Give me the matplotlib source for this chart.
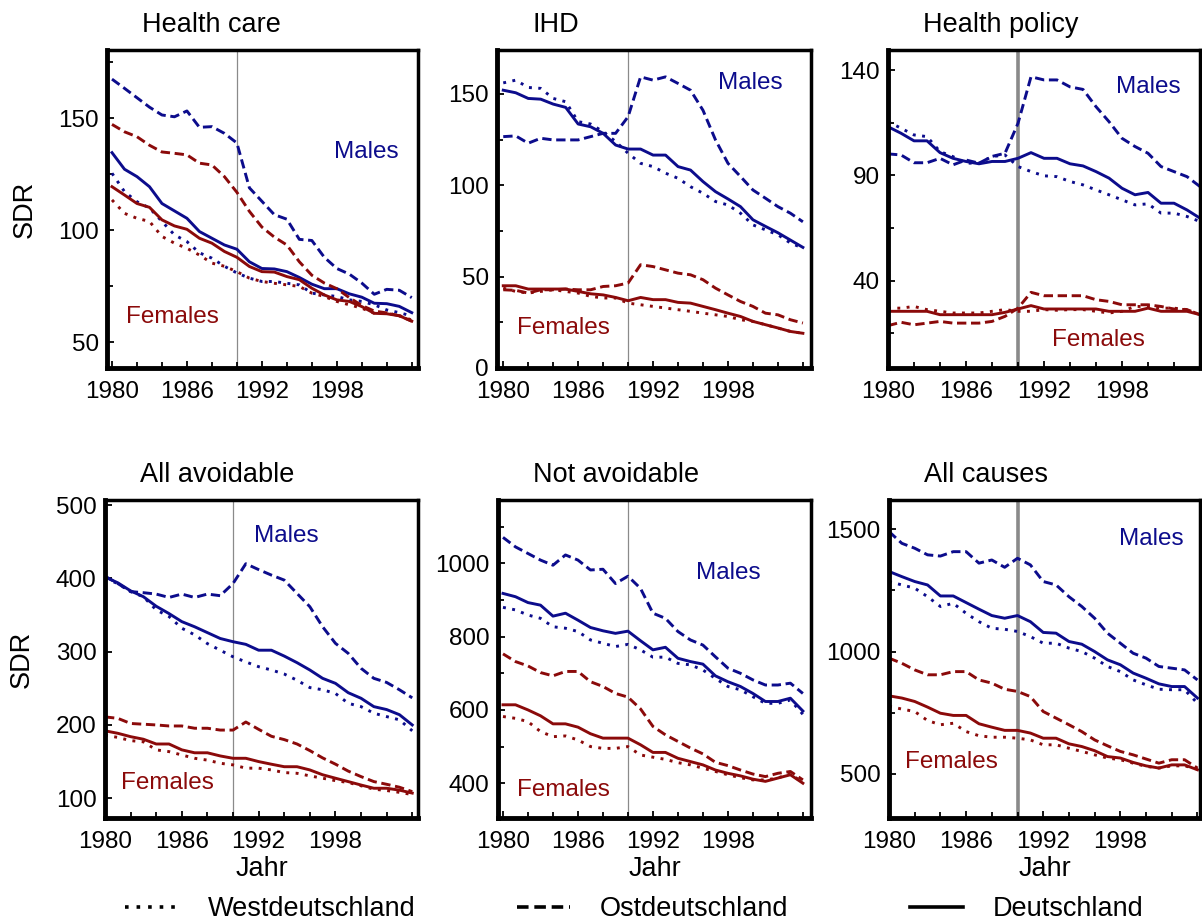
import matplotlib
matplotlib.use('Agg')
import matplotlib.pyplot as plt
from matplotlib.lines import Line2D
from matplotlib.ticker import MultipleLocator
import numpy as np

plt.rcParams['font.family'] = ['Liberation Sans', 'DejaVu Sans']

years = list(range(1980, 2005))

# Health care
hc_m_west = [125.5, 117.3, 112.8, 110, 104, 98, 95, 90, 87.6, 84, 81, 78.7, 77.2, 77.2, 76.4, 75.7, 72, 71.2, 70.5, 69, 68.3, 66.8, 64.5, 63.3, 61.8]
hc_m_ost = [167.5, 163.4, 159.2, 155, 151.5, 150.7, 153.3, 146, 146.3, 143.3, 139, 119, 113, 107, 105, 96, 95.5, 88, 83, 80.5, 76.5, 71.5, 73.7, 73.3, 70]
hc_m_de = [134.7, 127.3, 124, 119.5, 112, 108.7, 105.4, 99.5, 96.5, 93.5, 91.6, 86, 83, 82.8, 81.6, 79, 76, 74, 74, 71.7, 70.2, 67.5, 67.3, 66.1, 63.3]
hc_f_west = [113.6, 107.6, 105.4, 104, 97.3, 94.3, 92, 89, 85.4, 84, 81.6, 78.7, 77.2, 76.4, 75.7, 75, 72, 70.5, 68.3, 66.8, 65.3, 63, 63, 62, 60]
hc_f_ost = [147.3, 144, 141.8, 138, 135, 134.4, 133.7, 130, 129.2, 124, 117, 108.5, 101.5, 97, 93.5, 86, 80, 76.5, 74, 70, 66.5, 64, 63.2, 61.9, 59.5]
hc_f_de = [119.5, 115.8, 112, 110.3, 104.7, 102, 100.5, 96.5, 94.3, 90.6, 88, 83.9, 81.6, 81.4, 79.4, 78, 74.2, 71.2, 69, 68.3, 66, 63, 62.8, 61.9, 59.5]

# IHD
ihd_m_west = [156, 157.5, 153.5, 153, 147.5, 145.7, 134.8, 133.5, 129.3, 123.9, 117.5, 112, 110.2, 106.6, 103.8, 99.2, 95.6, 91.1, 89.2, 84.7, 78.3, 75.6, 72.9, 68.4, 65.6]
ihd_m_ost = [126.6, 127, 123, 125.7, 124.8, 124.8, 124.8, 126.6, 128.4, 128.4, 137.5, 159.3, 157.5, 159.3, 155.7, 152, 141, 124.8, 112, 104.8, 97.4, 92.9, 88.3, 84.7, 80]
ihd_m_de = [152, 150.6, 147.5, 147.1, 144.4, 142.6, 133.5, 132, 128.4, 122, 119.8, 119.8, 116.5, 116.5, 110.2, 108.3, 102, 96.5, 92.5, 88.3, 81.1, 77.5, 74, 70, 66]
ihd_f_west = [43.7, 41.9, 41, 41.9, 42.8, 41.9, 41, 39.2, 38.3, 38.3, 35.5, 34.6, 33.7, 32.8, 31.9, 31, 30, 29.1, 28.2, 26.4, 25.5, 23.7, 21.9, 20, 19]
ihd_f_ost = [42.8, 42.5, 41, 42.8, 42.8, 43.2, 42.8, 42.8, 44.6, 45, 46.5, 56.5, 55.5, 53.7, 51.9, 51, 48.3, 43.7, 40, 36.4, 33.7, 30, 29.1, 26.4, 24.6]
ihd_f_de = [45, 45, 43.2, 43.2, 43.2, 43.2, 41.9, 40.6, 40, 38.6, 36.8, 38.6, 37.4, 37.4, 35.9, 35.5, 33.7, 31.9, 30, 28.2, 25.5, 23.7, 21.9, 20, 19]

# Health policy
hp_m_west = [115.5, 112.4, 109.2, 108.4, 101.3, 98.9, 95.8, 95.8, 98.9, 99.7, 94.2, 91.8, 89.8, 89.4, 87.1, 85.5, 83.1, 80.8, 78.4, 76, 76.5, 72.1, 72.1, 70.5, 68.1]
hp_m_ost = [100.2, 99.7, 96, 96, 98.1, 95, 97.3, 95.8, 99, 100.5, 114.7, 136.8, 135.3, 135.3, 132, 130.8, 122.6, 115.5, 107.6, 103.7, 100.5, 94.2, 91.8, 89.4, 84.7]
hp_m_de = [113.1, 110, 106.4, 106.4, 100.8, 98.1, 96.6, 95.5, 96.6, 96.6, 98.1, 100.8, 98.1, 98.1, 95.5, 94.5, 91.8, 88.7, 83.9, 80.8, 81.9, 76.8, 76.8, 73.6, 69.7]
hp_f_west = [27, 27, 27.8, 26.3, 25.5, 24.7, 24.7, 24.7, 25.5, 26.3, 25.5, 25.5, 26.3, 26, 26.3, 26.3, 25.5, 24.7, 25.5, 27.8, 27.8, 27, 27, 26.3, 23.9]
hp_f_ost = [18.7, 20.3, 19.1, 19.9, 20.7, 19.9, 19.9, 19.9, 20.7, 23.1, 27, 34.5, 32.9, 32.9, 32.9, 32.9, 31, 30.2, 28.6, 28.6, 28.6, 27.8, 26.6, 26.3, 23.9]
hp_f_de = [25.5, 25.5, 25.5, 25.5, 23.9, 23.9, 23.9, 23.9, 23.9, 25, 26.6, 28.2, 26.6, 26.6, 26.6, 26.6, 26.6, 25.5, 25.5, 25.5, 27, 25.5, 25.5, 25.5, 23.9]

# All avoidable
av_m_west = [400, 393, 382, 375, 357, 348, 332, 323, 311, 302, 293, 286, 279.5, 275, 269.5, 261, 251, 248, 243, 229.5, 225, 216, 211.4, 207, 192]
av_m_ost = [403, 393, 382, 380.5, 378.6, 374, 378.6, 374, 378.6, 376.4, 393, 420, 412, 404.5, 397.7, 379.5, 361.4, 334, 311.4, 297.7, 277.3, 263.6, 258, 248, 237]
av_m_de = [402, 394, 383, 375, 362, 352, 341, 334, 326, 318, 313.6, 310, 302, 302, 294, 285, 275, 263.6, 256.8, 244, 236.4, 225, 221, 214, 200]
av_f_west = [186, 183, 178.6, 177, 166, 163.6, 159, 154.5, 152, 147.7, 145.5, 141, 141, 138.6, 135, 134, 130.5, 127.3, 124, 121.4, 117, 112.3, 110.5, 108, 105]
av_f_ost = [211, 209, 202, 201, 200, 198.6, 198.6, 195.5, 195.5, 193, 193, 204, 194, 184.5, 180, 174, 165, 155, 146.5, 137, 129.5, 122.7, 119, 115, 109]
av_f_de = [192, 188.6, 184, 180.5, 174, 174, 166, 162, 162, 157.7, 154.5, 154.5, 150, 146.4, 143, 143, 138.6, 132, 127.3, 122.7, 118, 113.6, 113.6, 111, 107]

# Not avoidable
na_m_west = [880, 873, 859, 850, 827, 823, 814, 791, 782, 773, 779, 764, 744, 744, 727, 723, 709, 686, 664, 655, 636, 618, 618, 627, 588]
na_m_ost = [1071, 1045, 1027, 1009, 995, 1023, 1009, 982, 984, 945, 965, 932, 864, 850, 814, 791, 777, 745, 714, 700, 682, 668, 668, 673, 645]
na_m_de = [918, 909, 893, 886, 856, 864, 845, 825, 816, 809, 815, 789, 764, 771, 741, 732, 725, 693, 677, 664, 645, 623, 623, 632, 597]
na_f_west = [582, 577, 568, 541, 527, 529, 518, 500, 495, 495, 500, 477, 471, 465, 456, 450, 441, 432, 423, 415, 409, 409, 414, 427, 400]
na_f_ost = [753, 732, 720, 702, 693, 705, 705, 677, 664, 645, 635, 603, 555, 532, 514, 496, 480, 457, 448, 436, 425, 418, 427, 432, 409]
na_f_de = [614, 614, 600, 584, 562, 562, 553, 535, 523, 523, 523, 505, 484, 484, 468, 459, 450, 436, 427, 420, 411, 405, 414, 423, 400]

# All causes
ac_m_west = [1286, 1272, 1259, 1224, 1184, 1197, 1156, 1122, 1095, 1091, 1082, 1061, 1034, 1034, 1014, 1000, 973, 939, 918, 884, 864, 846, 844, 844, 789]
ac_m_ost = [1490, 1442, 1422, 1395, 1390, 1408, 1408, 1361, 1374, 1344, 1381, 1354, 1286, 1272, 1224, 1184, 1136, 1075, 1034, 993, 973, 939, 932, 925, 884]
ac_m_de = [1327, 1306, 1286, 1272, 1227, 1227, 1200, 1173, 1147, 1136, 1147, 1122, 1078, 1075, 1041, 1030, 1000, 966, 946, 912, 891, 868, 857, 857, 810]
ac_f_west = [776, 765, 755, 718, 701, 707, 673, 656, 650, 650, 646, 639, 619, 619, 605, 592, 578, 565, 558, 544, 531, 524, 533, 533, 520]
ac_f_ost = [973, 952, 925, 905, 905, 918, 918, 884, 871, 846, 837, 816, 755, 728, 701, 673, 639, 615, 592, 578, 561, 544, 558, 558, 524]
ac_f_de = [819, 810, 796, 773, 748, 739, 739, 705, 691, 678, 678, 667, 646, 646, 623, 612, 595, 571, 565, 547, 533, 524, 537, 537, 517]

titles = ['Health care', 'IHD', 'Health policy', 'All avoidable', 'Not avoidable', 'All causes']
legend_labels = ['Westdeutschland', 'Ostdeutschland', 'Deutschland']

BLUE = '#0c0c8c'
RED = '#8b0a0a'
STYLES = [(0, (1.0, 2.2)), (0, (3.2, 1.6)), '-']


def plotPanel(ax, title, males, females, ylim, ymaj, ymin, xlim, vthick,
              mpos, fpos, first_col, bottom_row):
    """
    draw one panel: males and females, west / ost / deutschland
    """
    for series, col in ((males, BLUE), (females, RED)):
        for vals, ls in zip(series, STYLES):
            ax.plot(years, vals, color=col, ls=ls, lw=2.1)

    # reunification line
    if vthick:
        ax.axvline(1990, color='#8a8a8a', lw=2.6, zorder=0)
    else:
        ax.axvline(1990, color='#8a8a8a', lw=0.9, zorder=0)

    ax.set_xlim(xlim)
    ax.set_ylim(ylim)
    ax.xaxis.set_major_locator(MultipleLocator(6))
    ax.xaxis.set_minor_locator(MultipleLocator(2))
    ax.yaxis.set_major_locator(MultipleLocator(ymaj))
    if ymin:
        ax.yaxis.set_minor_locator(MultipleLocator(ymin))
    ax.set_xticks([1980, 1986, 1992, 1998])

    ax.tick_params(which='both', direction='in', labelsize=17.5, width=1.3)
    ax.tick_params(which='major', length=5)
    ax.tick_params(which='minor', length=4)
    ax.tick_params(axis='x', pad=9)
    ax.tick_params(axis='y', pad=6)

    for side in ['left', 'bottom']:
        ax.spines[side].set_linewidth(3.5)
    for side in ['top', 'right']:
        ax.spines[side].set_linewidth(2.5)

    ax.text(0.113, 1.079, title, transform=ax.transAxes, fontsize=19.5,
            ha='left', va='center')
    ax.text(mpos[0], mpos[1], 'Males', transform=ax.transAxes, color=BLUE,
            fontsize=17.5, ha='center', va='center')
    ax.text(fpos[0], fpos[1], 'Females', transform=ax.transAxes, color=RED,
            fontsize=17.5, ha='center', va='center')

    if first_col:
        ax.set_ylabel('SDR', fontsize=19.5)
        ax.yaxis.set_label_coords(-0.265, 0.5)
        ax.yaxis.label.set_va('center')
    if bottom_row:
        ax.set_xlabel('Jahr', fontsize=19.5)
        ax.xaxis.set_label_coords(0.5, -0.12)
        ax.xaxis.label.set_va('top')


fig = plt.figure(figsize=(12.02, 9.24), dpi=100)

W, H = 1202.0, 924.0
boxes = [(107, 50, 311), (497, 50, 314), (888, 50, 312),
         (105, 500, 313), (498, 500, 313), (889, 500, 311)]
axes = [fig.add_axes([x / W, 1 - (y + 318) / H, w / W, 318 / H]) for x, y, w in boxes]

plotPanel(axes[0], titles[0], (hc_m_west, hc_m_ost, hc_m_de), (hc_f_west, hc_f_ost, hc_f_de),
          (38.6, 180.5), 50, 25, (1979.6, 2004.5), False,
          (0.833, 0.679), (0.209, 0.16), True, False)
plotPanel(axes[1], titles[1], (ihd_m_west, ihd_m_ost, ihd_m_de), (ihd_f_west, ihd_f_ost, ihd_f_de),
          (0, 174), 50, 25, (1979.5, 2004.65), False,
          (0.806, 0.896), (0.21, 0.126), False, False)
plotPanel(axes[2], titles[2], (hp_m_west, hp_m_ost, hp_m_de), (hp_f_west, hp_f_ost, hp_f_de),
          (-1.4, 149.5), 50, 25, (1980, 2004), True,
          (0.833, 0.884), (0.673, 0.088), False, False)
axes[2].set_yticks([40, 90, 140])
axes[2].set_yticks([15, 65, 115], minor=True)
plotPanel(axes[3], titles[3], (av_m_west, av_m_ost, av_m_de), (av_f_west, av_f_ost, av_f_de),
          (73, 507), 100, None, (1980, 2004.45), False,
          (0.58, 0.887), (0.2, 0.11), True, True)
plotPanel(axes[4], titles[4], (na_m_west, na_m_ost, na_m_de), (na_f_west, na_f_ost, na_f_de),
          (305, 1173), 200, 100, (1979.6, 2004.65), False,
          (0.735, 0.77), (0.208, 0.088), False, True)
plotPanel(axes[5], titles[5], (ac_m_west, ac_m_ost, ac_m_de), (ac_f_west, ac_f_ost, ac_f_de),
          (320, 1619), 500, 250, (1980, 2004.2), True,
          (0.842, 0.877), (0.2, 0.176), False, True)

# legend along the bottom
leg_x = [125, 517, 910]
for lab, ls, x in zip(legend_labels, STYLES, leg_x):
    h = Line2D([], [], color='black', ls=ls, lw=2.6)
    fig.legend(handles=[h], labels=[lab], loc='center left',
               bbox_to_anchor=(x / W, 1 - 909 / H), frameon=False,
               fontsize=19.5, handlelength=1.95, handletextpad=1.1,
               borderpad=0, borderaxespad=0)

plt.savefig('out.png', dpi=100)
plt.close()
